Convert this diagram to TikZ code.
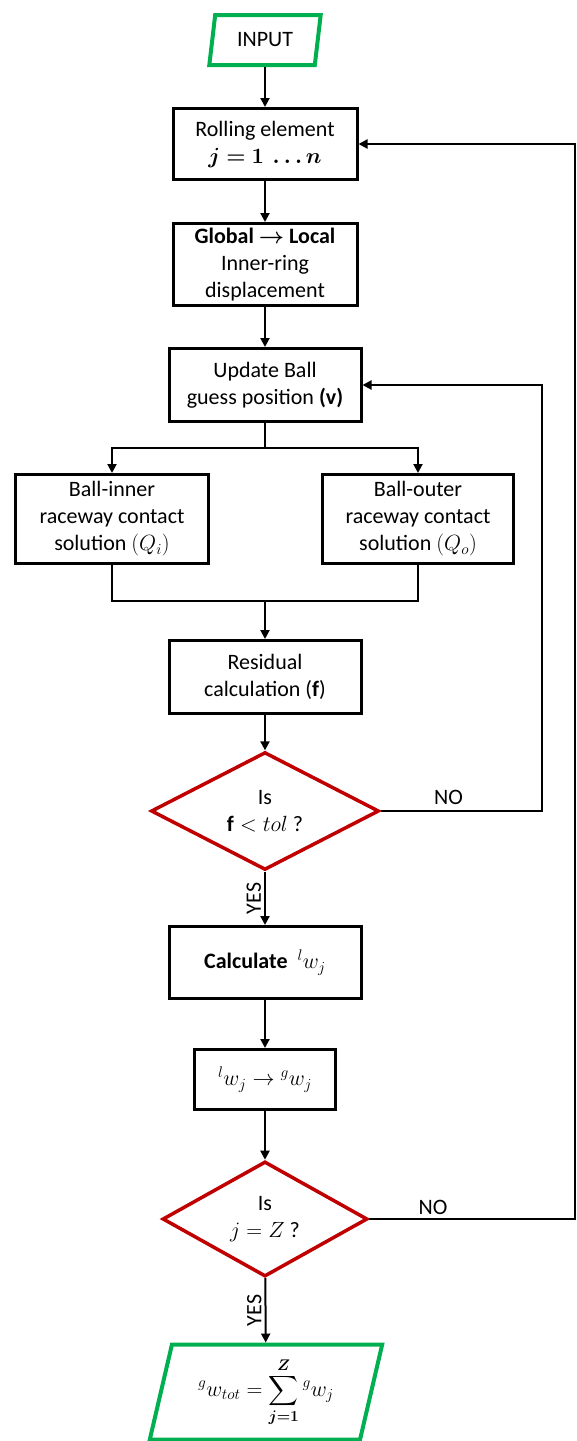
\RequirePackage{fix-cm}
\documentclass[tikz,border=0pt]{standalone}
\usepackage{amsmath,bm}
\usepackage{fontspec}
\setmainfont{Carlito}
\usetikzlibrary{shapes.geometric,arrows.meta}
\definecolor{iogreen}{RGB}{0,176,80}
\definecolor{askred}{RGB}{192,0,0}
\tikzset{
box/.style={draw,line width=3pt,align=center,inner sep=0pt},
ask/.style={diamond,draw=askred,line width=3.5pt,align=center,inner sep=0pt},
io/.style={trapezium,trapezium left angle=77,trapezium right angle=103,trapezium stretches=true,draw=iogreen,line width=4pt,align=center,inner sep=0pt},
conn/.style={line width=2pt},
arr/.style={conn,-{Triangle[length=9pt,width=9pt]}}
}
\begin{document}
\begin{tikzpicture}[x=1pt,y=-1pt,font=\fontsize{22}{27}\selectfont]
\useasboundingbox (0,0) rectangle (576,1441);
\node[io,minimum width=112pt,minimum height=50pt] (input) at (265,40) {INPUT};
\node[box,minimum width=184pt,minimum height=71pt] (roll) at (265,144) {Rolling element\\$\bm{j=1\ \ldots n}$};
\node[box,minimum width=184pt,minimum height=82pt] (glob) at (265,264.5) {\textbf{Global $\bm{\rightarrow}$ Local}\\Inner-ring\\displacement};
\node[box,minimum width=192pt,minimum height=73pt] (upd) at (265,385) {Update Ball\\guess position \textbf{(v)}};
\node[box,minimum width=193pt,minimum height=89pt] (inner) at (112,519) {Ball-inner\\raceway contact\\solution $(Q_i)$};
\node[box,minimum width=191pt,minimum height=89pt] (outer) at (418,519) {Ball-outer\\raceway contact\\solution $(Q_o)$};
\node[box,minimum width=192pt,minimum height=73pt] (resid) at (265,677) {Residual\\calculation (\textbf{f})};
\node[ask,minimum width=228pt,minimum height=106pt] (tol) at (265,811) {Is\\$\mathbf{f}<tol$ ?};
\node[box,minimum width=192pt,minimum height=72pt] (calc) at (265,962.5) {\textbf{Calculate} \ ${}^{l}w_j$};
\node[box,minimum width=141pt,minimum height=60pt] (conv) at (265,1079.5) {${}^{l}w_j \rightarrow {}^{g}w_j$};
\node[ask,minimum width=205pt,minimum height=93pt] (last) at (265,1219) {Is\\$j=Z$ ?};
\node[io,minimum width=233pt,minimum height=95pt] (total) at (266,1392) {$\displaystyle {}^{g}w_{tot}=\sum_{\bm{j=1}}^{\bm{Z}} {}^{g}w_j$};
\coordinate (split) at (265,448);
\coordinate (merge) at (265,601);
\coordinate (back) at (542,811);
\coordinate (next) at (575,1219);
\draw[arr] (input) -- (roll);
\draw[arr] (roll) -- (glob);
\draw[arr] (glob) -- (upd);
\draw[conn] (upd) -- (split);
\draw[arr] (split) -| (inner);
\draw[arr] (split) -| (outer);
\draw[conn] (inner) |- (merge);
\draw[conn] (outer) |- (merge);
\draw[arr] (merge) -- (resid);
\draw[arr] (resid) -- (tol);
\draw[arr] (tol.east) -- node[pos=0.42,above=2pt]{NO} (back) |- (upd.east);
\draw[arr] (tol) -- node[rotate=90,anchor=south,inner sep=3pt]{YES} (calc);
\draw[arr] (calc) -- (conv);
\draw[arr] (conv) -- (last);
\draw[arr] (last.east) -- node[pos=0.31,above=0pt]{NO} (next) |- (roll.east);
\draw[arr] (last) -- node[rotate=90,anchor=south,inner sep=3pt]{YES} (total);
\end{tikzpicture}
\end{document}
